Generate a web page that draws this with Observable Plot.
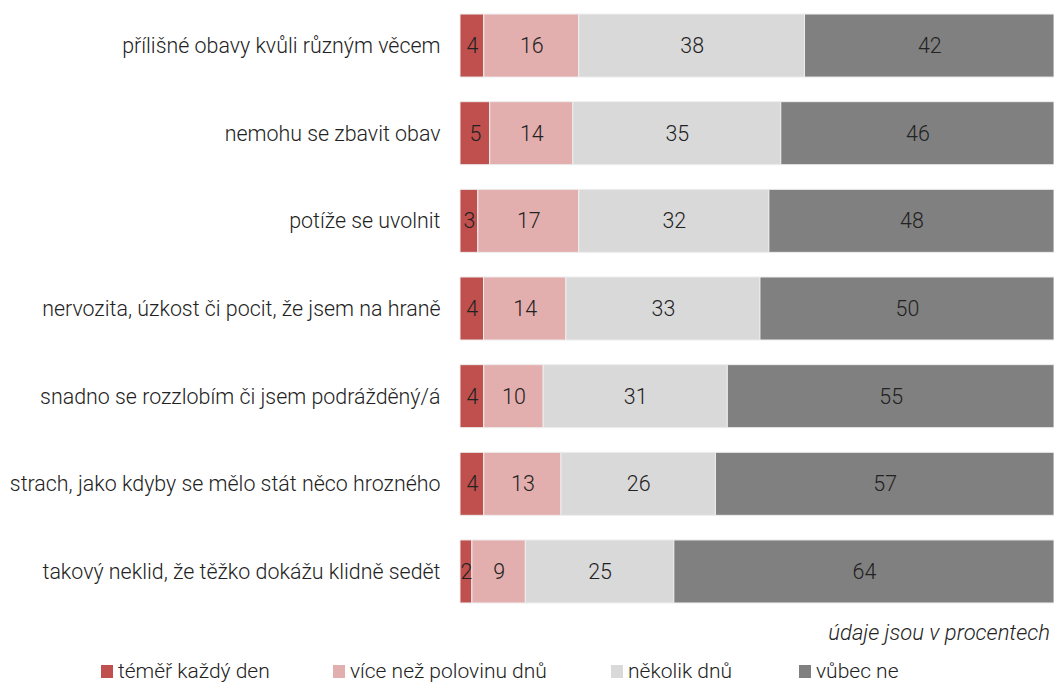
<!DOCTYPE html>
<html>
<head>
<meta charset="utf-8">
<script src="https://cdn.jsdelivr.net/npm/d3@7"></script>
<script src="https://cdn.jsdelivr.net/npm/@observablehq/plot@0.6"></script>
<style>
  body { margin: 0; background: #fff; font-family: Roboto, sans-serif; font-weight: 300; color: #222; }
  #caption { width: 1050px; text-align: right; font-style: italic; font-size: 22px; height: 32px; line-height: 32px; }
  #legend { position: relative; height: 33px; font-size: 21px; }
  .item { position: absolute; top: 10px; display: flex; align-items: center; }
  .sw { width: 12px; height: 13px; margin-right: 5px; display: inline-block; }
</style>
</head>
<body>
<div id="chart"></div>
<div id="caption">údaje jsou v procentech</div>
<div id="legend"></div>
<script>
const categories = [
  "přílišné obavy kvůli různým věcem",
  "nemohu se zbavit obav",
  "potíže se uvolnit",
  "nervozita, úzkost či pocit, že jsem na hraně",
  "snadno se rozzlobím či jsem podrážděný/á",
  "strach, jako kdyby se mělo stát něco hrozného",
  "takový neklid, že těžko dokážu klidně sedět"
];
const seriesNames = ["téměř každý den", "více než polovinu dnů", "několik dnů", "vůbec ne"];
const temerKazdyDen = [4, 5, 3, 4, 4, 4, 2];
const viceNezPolovinu = [16, 14, 17, 14, 10, 13, 9];
const nekolikDnu = [38, 35, 32, 33, 31, 26, 25];
const vubecNe = [42, 46, 48, 50, 55, 57, 64];
const colors = ["#c0504d", "#e3aeae", "#d9d9d9", "#808080"];

const seriesValues = [temerKazdyDen, viceNezPolovinu, nekolikDnu, vubecNe];
const data = [];
categories.forEach((c, i) => {
  seriesValues.forEach((vals, s) => {
    data.push({category: c, series: seriesNames[s], value: vals[i]});
  });
});

const stackOpts = {x: "value", y: "category", z: "series", order: seriesNames, offset: "normalize"};

const chart = Plot.plot({
  width: 1054,
  height: 617,
  marginLeft: 460,
  marginRight: 0,
  marginTop: 0,
  marginBottom: 0,
  style: {fontFamily: "Roboto, sans-serif", fontWeight: 300, fontSize: "21.4px", color: "#222", background: "#fff"},
  x: {axis: null, domain: [0, 1]},
  y: {domain: categories, paddingInner: 0.281, paddingOuter: 0.16, round: false, label: null},
  color: {domain: seriesNames, range: colors},
  marks: [
    Plot.barX(data, Plot.stackX({...stackOpts, fill: "series", stroke: "#eeeeee", strokeWidth: 1})),
    Plot.text(data, Plot.stackX({...stackOpts, text: d => String(d.value), fill: "#222", fontSize: 21.4, fontWeight: 300})),
    Plot.axisY({tickSize: 0, tickPadding: 20, fontSize: 21.4, fontWeight: 300, label: null, fill: "#222"})
  ]
});
document.getElementById("chart").appendChild(chart);

const legend = document.getElementById("legend");
const lx = [101, 333, 611, 799];
seriesNames.forEach((n, i) => {
  const it = document.createElement("div");
  it.className = "item";
  it.style.left = lx[i] + "px";
  it.innerHTML = `<span class="sw" style="background:${colors[i]}"></span><span>${n}</span>`;
  legend.appendChild(it);
});
</script>
</body>
</html>
